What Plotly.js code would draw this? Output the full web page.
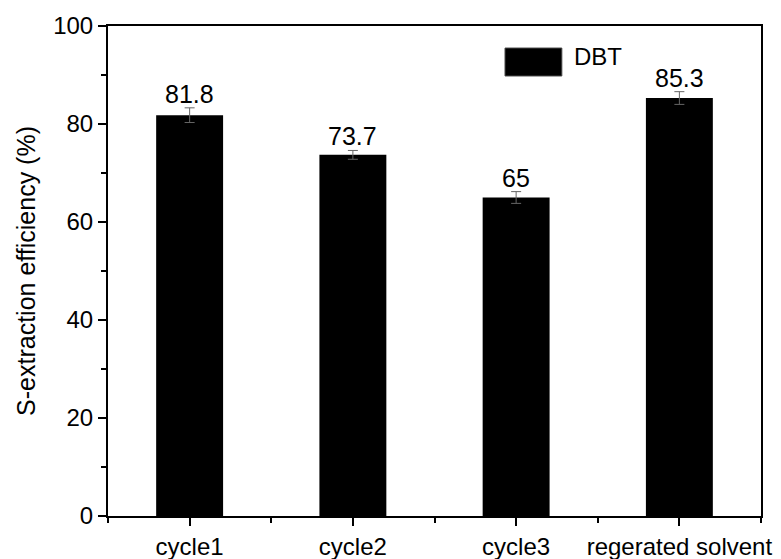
<!DOCTYPE html>
<html>
<head>
<meta charset="utf-8">
<script src="https://cdn.plot.ly/plotly-3.0.1.min.js"></script>
<style>
  html, body { margin: 0; padding: 0; background: #fff; }
  #chart { width: 781px; height: 559px; }
</style>
</head>
<body>
<div id="chart"></div>
<script>
// Extraction efficiency of DBT over repeated solvent cycles
const categories = ['cycle1', 'cycle2', 'cycle3', 'regerated solvent'];
const efficiency = [81.8, 73.7, 65, 85.3];
const errors = [1.5, 0.9, 1.2, 1.3];
const valueLabels = ['81.8', '73.7', '65', '85.3'];
const seriesName = 'DBT';
const yTicks = [0, 20, 40, 60, 80, 100];

const FONT = 'Liberation Sans, Arial, sans-serif';
const positions = categories.map((c, i) => i);

const trace = {
  type: 'bar',
  name: seriesName,
  x: positions,
  y: efficiency,
  width: 0.41,
  marker: { color: '#000000', line: { color: '#000000', width: 0 } },
  error_y: {
    type: 'data',
    array: errors,
    visible: true,
    color: '#666666',
    thickness: 1,
    width: 5
  },
  showlegend: false,
  hoverinfo: 'x+y'
};

// value labels sit just above each error bar cap
const annotations = positions.map((p, i) => ({
  x: p,
  y: efficiency[i] + errors[i],
  xref: 'x',
  yref: 'y',
  text: valueLabels[i],
  showarrow: false,
  yanchor: 'bottom',
  yshift: -2,
  font: { family: FONT, size: 25, color: '#000' }
}));

// legend entry: swatch + name
annotations.push({
  x: 0.711, y: 0.938, xref: 'paper', yref: 'paper',
  text: seriesName, showarrow: false,
  xanchor: 'left', yanchor: 'middle',
  font: { family: FONT, size: 24, color: '#000' }
});

const layout = {
  width: 781,
  height: 559,
  margin: { l: 108, r: 20, t: 26, b: 43 },
  paper_bgcolor: '#ffffff',
  plot_bgcolor: '#ffffff',
  font: { family: FONT, size: 24, color: '#000' },
  showlegend: false,
  xaxis: {
    range: [-0.5, 3.5],
    tickvals: positions,
    ticktext: categories,
    ticks: 'outside',
    ticklen: 8,
    tickwidth: 2,
    tickcolor: '#000',
    showline: true,
    linecolor: '#000',
    linewidth: 2,
    mirror: true,
    showgrid: false,
    zeroline: false,
    tickfont: { family: FONT, size: 24, color: '#000' },
    minor: { tick0: 0.5, dtick: 1, ticks: 'outside', ticklen: 5, tickwidth: 2, tickcolor: '#000', showgrid: false }
  },
  yaxis: {
    range: [0, 100],
    tickvals: yTicks,
    ticks: 'outside',
    ticklen: 8,
    tickwidth: 2,
    tickcolor: '#000',
    showline: true,
    linecolor: '#000',
    linewidth: 2,
    mirror: true,
    showgrid: false,
    zeroline: false,
    tickfont: { family: FONT, size: 24, color: '#000' },
    title: { text: 'S-extraction efficiency (%)', font: { family: FONT, size: 25, color: '#000' }, standoff: 10 },
    minor: { tick0: 10, dtick: 20, ticks: 'outside', ticklen: 5, tickwidth: 2, tickcolor: '#000', showgrid: false }
  },
  shapes: [{
    type: 'rect', xref: 'paper', yref: 'paper',
    x0: 0.608, x1: 0.695, y0: 0.898, y1: 0.955,
    fillcolor: '#000', line: { color: '#444', width: 1 }
  }],
  annotations: annotations
};

Plotly.newPlot('chart', [trace], layout, { displayModeBar: false, staticPlot: true });
</script>
</body>
</html>
